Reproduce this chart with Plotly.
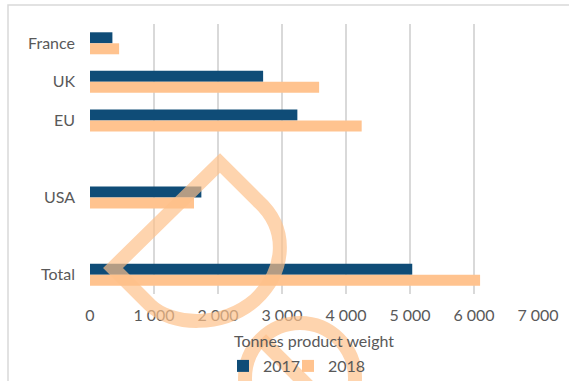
import plotly.graph_objects as go

# ---- data ----
categories = ["France", "UK", "EU", " ", "USA", "  ", "Total"]
values_2017 = [350, 2705, 3240, None, 1740, None, 5035]
values_2018 = [455, 3580, 4245, None, 1625, None, 6095]
series_names = ["2017", "2018"]
x_tick_values = [0, 1000, 2000, 3000, 4000, 5000, 6000, 7000]
x_title = "Tonnes product weight"

# ---- style ----
W, H = 569, 381
ML, MR, MT, MB = 90, 31, 24, 87
PW, PH = W - ML - MR, H - MT - MB
BLUE = "#0F4C77"
ORANGE = "#FFC38F"
TXT = "#595959"
GRID = "#D9D9D9"
FONT = "Lato"
FS = 16


def px(x):
    return (x - ML) / PW


def py(y):
    return (H - MB - y) / PH


fig = go.Figure()
fig.add_trace(go.Bar(y=categories, x=values_2017, name=series_names[0], orientation="h",
                     legendwidth=20,
                     marker=dict(color=BLUE, line=dict(width=0))))
fig.add_trace(go.Bar(y=categories, x=values_2018, name=series_names[1], orientation="h",
                     marker=dict(color=ORANGE, line=dict(width=0))))

shapes = []
# outer chart frame
shapes.append(dict(type="rect", xref="paper", yref="paper",
                   x0=px(8), x1=px(600), y0=py(5), y1=py(420),
                   line=dict(color=GRID, width=1.5), fillcolor="rgba(0,0,0,0)", layer="below"))

# decorative watermark (drop + prohibition circle)
drop_pts = [("M", [(220, 163)]), ("L", [(113, 268)]), ("L", [(150, 305)]),
            ("C", [(172, 326), (222, 328), (255, 300)]),
            ("C", [(285, 272), (290, 230), (258, 201)]), ("L", [(220, 163)])]
path = ""
for cmd, pts in drop_pts:
    path += cmd + " " + " ".join(f"{px(a):.5f},{py(b):.5f}" for a, b in pts) + " "
path += "Z"
wm = dict(color="#FEC18A", width=14)
shapes.append(dict(type="path", xref="paper", yref="paper", path=path,
                   line=wm, fillcolor="rgba(0,0,0,0)", opacity=0.69, layer="above"))
cx, cy, r = 300, 378, 55
shapes.append(dict(type="circle", xref="paper", yref="paper",
                   x0=px(cx - r), x1=px(cx + r), y0=py(cy + r), y1=py(cy - r),
                   line=wm, fillcolor="rgba(0,0,0,0)", opacity=0.69, layer="above"))
d = r * 0.707
shapes.append(dict(type="line", xref="paper", yref="paper",
                   x0=px(cx - d), y0=py(cy - d), x1=px(cx + d), y1=py(cy + d),
                   line=wm, opacity=0.69, layer="above"))

fig.update_layout(
    width=W, height=H,
    margin=dict(l=ML, r=MR, t=MT, b=MB, pad=0, autoexpand=False),
    paper_bgcolor="white", plot_bgcolor="white",
    font=dict(family=FONT, size=FS, color=TXT),
    barmode="group", bargap=0.43, bargroupgap=0,
    separators=". ",
    showlegend=True,
    legend=dict(orientation="h", x=px(223), xanchor="left", y=py(366), yanchor="middle",
                font=dict(size=FS, color=TXT), itemwidth=30, traceorder="normal",
                bgcolor="rgba(0,0,0,0)"),
    shapes=shapes,
)
fig.update_xaxes(range=[0, 7000], tickvals=x_tick_values, tickformat=",d",
                 showgrid=True, gridcolor=GRID, gridwidth=2, zeroline=False,
                 showline=False, ticks="", ticklabelstandoff=10, automargin=False,
                 title=dict(text=x_title, font=dict(size=FS, color=TXT), standoff=12),
                 fixedrange=True)
fig.update_yaxes(type="category", categoryorder="array", categoryarray=categories,
                 range=[6.5, -0.5], showgrid=False, zeroline=False, showline=False,
                 ticks="", ticklabelstandoff=14, automargin=False, fixedrange=True)

fig.write_html("out.html", config={"displayModeBar": False},
               post_script="document.body.style.margin='0';document.body.style.overflow='hidden';")
